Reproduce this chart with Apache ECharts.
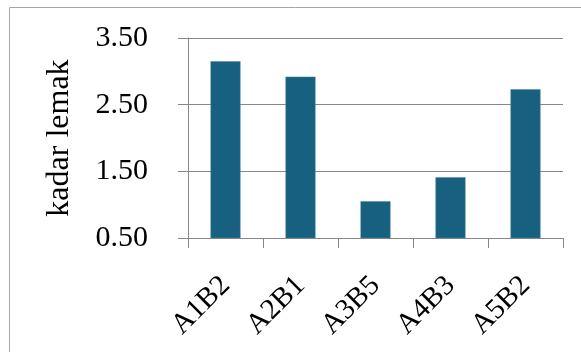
<!DOCTYPE html>
<html>
<head>
<meta charset="utf-8">
<script src="https://cdn.jsdelivr.net/npm/echarts@6/dist/echarts.min.js"></script>
<style>
  html, body { margin: 0; padding: 0; background: #fff; }
  #chart { width: 581px; height: 352px; }
</style>
</head>
<body>
<div id="chart"></div>
<script>
// data
const categories = ['A1B2', 'A2B1', 'A3B5', 'A4B3', 'A5B2'];
const kadarLemak = [3.15, 2.92, 1.05, 1.41, 2.73];
const yTicks = [0.5, 1.5, 2.5, 3.5];

const serif = '"Liberation Serif", "Times New Roman", serif';
const chart = echarts.init(document.getElementById('chart'));

const option = {
  animation: false,
  graphic: [{
    type: 'rect',
    shape: { x: 9.5, y: 7.5, width: 640, height: 420 },
    style: { fill: 'none', stroke: '#a6a6a6', lineWidth: 1 },
    silent: true
  }],
  grid: { left: 188, top: 38, right: 18, bottom: 114 },
  xAxis: {
    type: 'category',
    data: categories,
    axisLine: { lineStyle: { color: '#878787', width: 1 } },
    axisTick: { show: true, length: 10, alignWithLabel: false, lineStyle: { color: '#878787' } },
    axisLabel: {
      rotate: 45,
      margin: 43,
      fontFamily: serif,
      fontSize: 29,
      color: '#000'
    }
  },
  yAxis: {
    type: 'value',
    min: yTicks[0],
    max: yTicks[yTicks.length - 1],
    interval: 1,
    name: 'kadar lemak',
    nameLocation: 'middle',
    nameGap: 112,
    nameTextStyle: { fontFamily: serif, fontSize: 32, color: '#000' },
    axisLine: { show: true, lineStyle: { color: '#878787', width: 1 } },
    axisTick: { show: true, length: 10, lineStyle: { color: '#878787' } },
    splitLine: { show: true, lineStyle: { color: '#878787', width: 1 } },
    axisLabel: {
      margin: 40,
      fontFamily: serif,
      fontSize: 30,
      color: '#000',
      formatter: v => v.toFixed(2)
    }
  },
  series: [{
    type: 'bar',
    data: kadarLemak,
    barWidth: '40%',
    itemStyle: { color: '#17607f', borderColor: '#4f85a3', borderWidth: 0.5 }
  }]
};

chart.setOption(option);
</script>
</body>
</html>
